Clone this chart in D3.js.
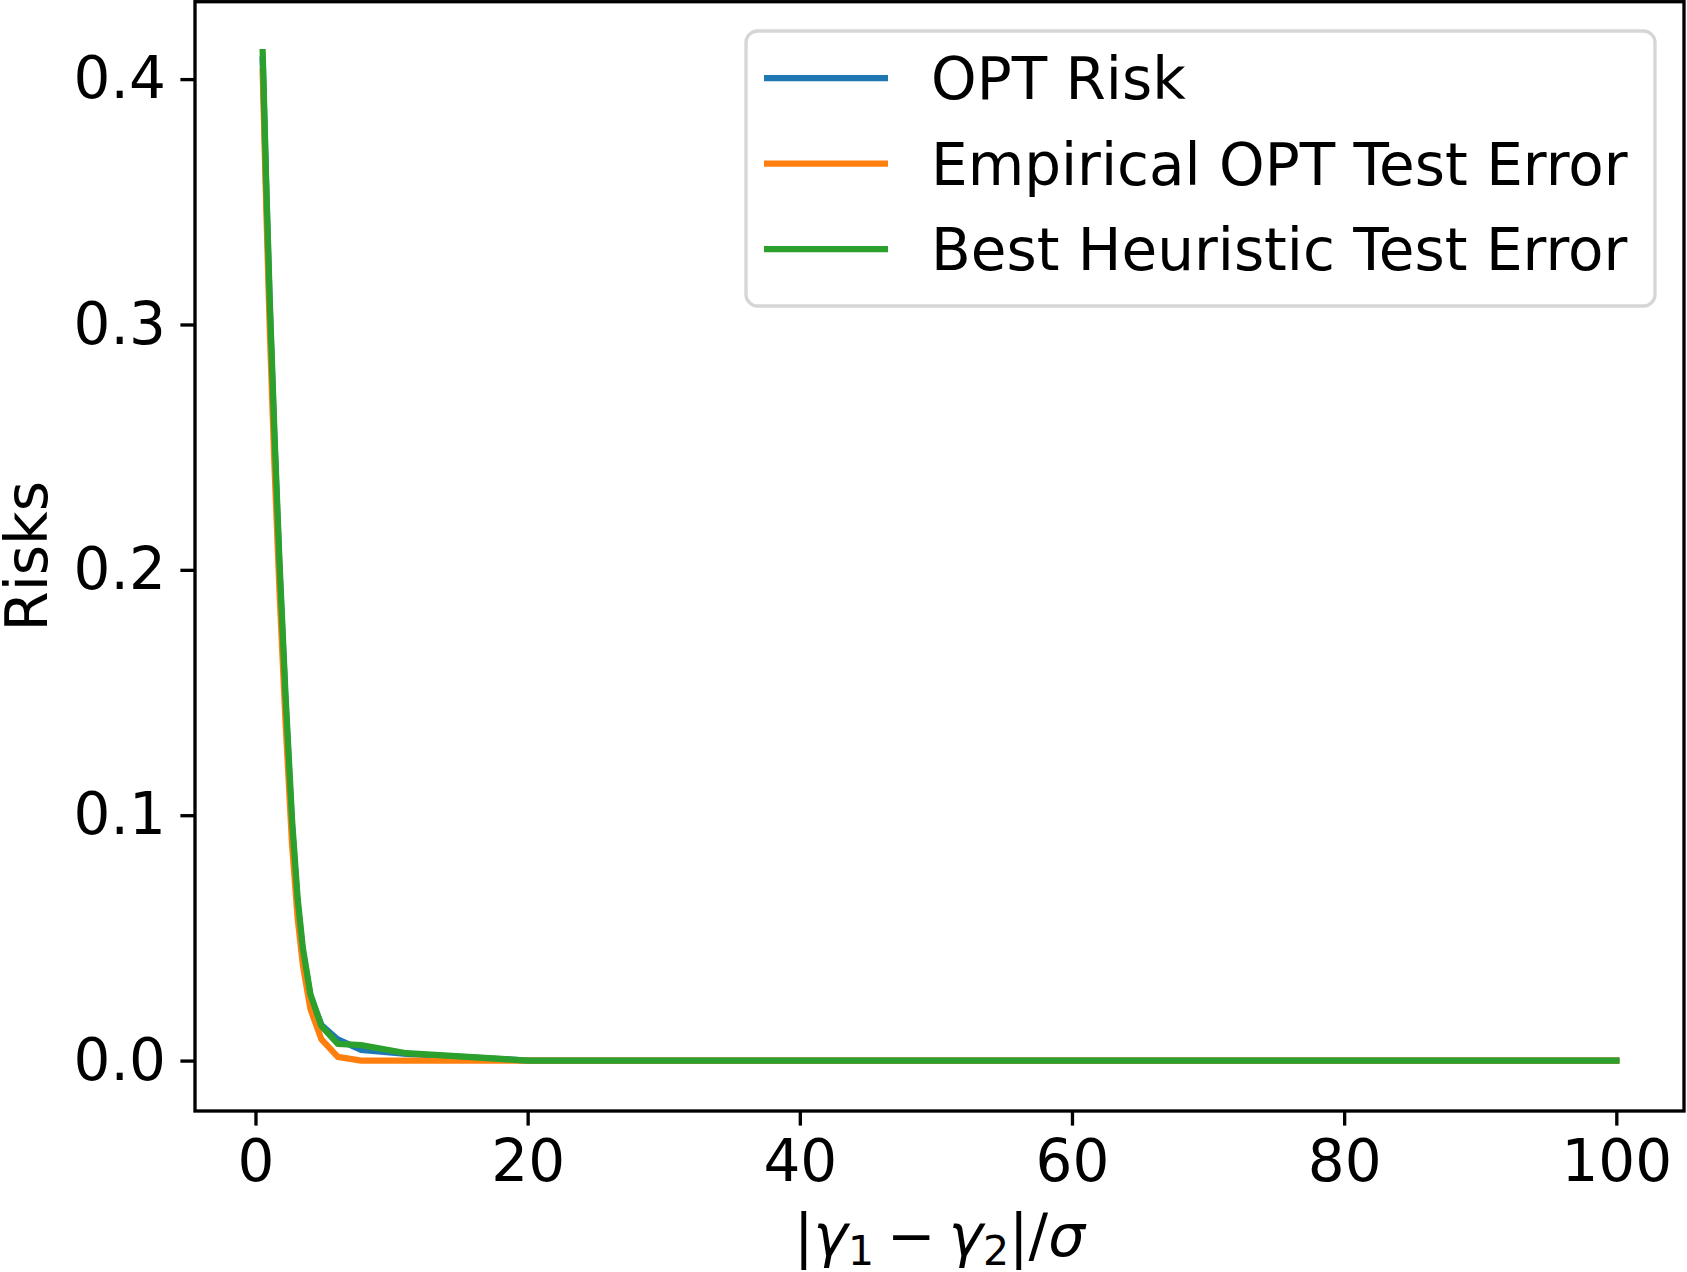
<!DOCTYPE html>
<html>
<head>
<meta charset="utf-8">
<script src="https://cdnjs.cloudflare.com/ajax/libs/d3/7.8.5/d3.min.js"></script>
<style>
	html, body { margin: 0; padding: 0; background: #ffffff; }
	svg text { font-family: "DejaVu Sans", sans-serif; fill: #000000; }
</style>
</head>
<body>
<div id="demo"></div>
<script>

// x values (|gamma1 - gamma2| / sigma)
var xValues = [0.53, 0.8, 1.05, 1.4, 1.76, 2.2, 2.69, 3.1, 3.48, 4.04, 4.85, 6.05, 7.76, 11.1, 20, 100];

// series values
var optRisk   = [0.408, 0.353, 0.307, 0.252, 0.201, 0.147, 0.095, 0.064, 0.044, 0.026, 0.0145, 0.0086, 0.0044, 0.0027, 0.0, 0.0];
var empTest   = [0.403, 0.346, 0.298, 0.242, 0.192, 0.139, 0.088, 0.058, 0.039, 0.021, 0.0086, 0.0015, 0.0, 0.0, 0.0, 0.0];
var bestHeur  = [0.411, 0.356, 0.310, 0.255, 0.204, 0.150, 0.098, 0.066, 0.046, 0.027, 0.0140, 0.0068, 0.0063, 0.0030, 0.0, 0.0];

var seriesNames = ['OPT Risk', 'Empirical OPT Test Error', 'Best Heuristic Test Error'];
var seriesColors = ['#1f77b4', '#ff7f0e', '#2ca02c'];

// tick labels
var xTicks = [0, 20, 40, 60, 80, 100];
var yTicks = [0.0, 0.1, 0.2, 0.3, 0.4];

(function() {

	var W = 1687, H = 1272;
	var pL = 195, pR = 1684, pT = 1.7, pB = 1111;
	var fs = 58;           // font size px
	var lw = 6.25;         // line width px
	var tickLen = 14.6, tickW = 3.33;

	var svg = d3.select("#demo").append("svg")
		.attr("width", W)
		.attr("height", H);

	// margins like matplotlib (5%)
	var allY = optRisk.concat(empTest, bestHeur);
	var xMin = d3.min(xValues), xMax = d3.max(xValues);
	var yMin = d3.min(allY), yMax = d3.max(allY);
	var xm = (xMax - xMin) * 0.05, ym = (yMax - yMin) * 0.05;

	var x = d3.scaleLinear().domain([xMin - xm, xMax + xm]).range([pL, pR]);
	var y = d3.scaleLinear().domain([yMin - ym, yMax + ym]).range([pB, pT]);

	// lines
	var lineGen = d3.line()
		.x(function(d) { return x(d[0]); })
		.y(function(d) { return y(d[1]); });

	var dataset = [optRisk, empTest, bestHeur].map(function(vals, i) {
		return { name: seriesNames[i], color: seriesColors[i],
			points: xValues.map(function(v, j) { return [v, vals[j]]; }) };
	});

	svg.append("clipPath").attr("id", "clip")
		.append("rect")
		.attr("x", pL).attr("y", pT)
		.attr("width", pR - pL).attr("height", pB - pT);

	svg.append("g")
		.attr("clip-path", "url(#clip)")
		.selectAll(".series")
		.data(dataset)
		.enter()
		.append("path")
		.attr("class", "series")
		.attr("d", function(d) { return lineGen(d.points); })
		.attr("fill", "none")
		.attr("stroke", function(d) { return d.color; })
		.attr("stroke-width", lw)
		.attr("stroke-linecap", "square")
		.attr("stroke-linejoin", "round")
		;

	// axes
	var xAxis = svg.append("g")
		.attr("transform", "translate(0," + pB + ")")
		.call(d3.axisBottom(x).tickValues(xTicks).tickFormat(d3.format("d"))
			.tickSize(tickLen).tickPadding(tickLen));

	var yAxis = svg.append("g")
		.attr("transform", "translate(" + pL + ",0)")
		.call(d3.axisLeft(y).tickValues(yTicks).tickFormat(d3.format(".1f"))
			.tickSize(tickLen).tickPadding(tickLen));

	[xAxis, yAxis].forEach(function(a) {
		a.select(".domain").remove();
		a.selectAll(".tick line").attr("stroke", "#000").attr("stroke-width", tickW);
		a.selectAll(".tick text")
			.style("font-family", "'DejaVu Sans', sans-serif")
			.style("font-size", fs + "px")
			.attr("fill", "#000");
	});

	// spines
	svg.append("rect")
		.attr("x", pL).attr("y", pT)
		.attr("width", pR - pL).attr("height", pB - pT)
		.attr("fill", "none")
		.attr("stroke", "#000")
		.attr("stroke-width", tickW)
		;

	// y label
	svg.append("text")
		.attr("transform", "translate(47," + ((pT + pB) / 2) + ") rotate(-90)")
		.attr("text-anchor", "middle")
		.style("font-size", fs + "px")
		.text("Risks");

	// x label  |γ1 − γ2|/σ
	var xl = svg.append("text")
		.attr("x", (pL + pR) / 2)
		.attr("y", 1256)
		.attr("text-anchor", "middle")
		.style("font-size", fs + "px");
	xl.append("tspan").text("|");
	xl.append("tspan").style("font-style", "italic").text("γ");
	xl.append("tspan").style("font-size", "41px").attr("dy", 9).text("1");
	xl.append("tspan").attr("dy", -9).attr("dx", 13).text("−");
	xl.append("tspan").attr("dx", 13).style("font-style", "italic").text("γ");
	xl.append("tspan").style("font-size", "41px").attr("dy", 9).text("2");
	xl.append("tspan").attr("dy", -9).text("|/");
	xl.append("tspan").style("font-style", "italic").text("σ");

	// legend
	var lg = svg.append("g");
	lg.append("rect")
		.attr("x", 746).attr("y", 31)
		.attr("width", 909).attr("height", 275)
		.attr("rx", 11.6)
		.attr("fill", "#ffffff")
		.attr("fill-opacity", 0.8)
		.attr("stroke", "#d6d6d6")
		.attr("stroke-width", tickW)
		;

	var rows = lg.selectAll(".lrow")
		.data(dataset)
		.enter()
		.append("g")
		.attr("class", "lrow")
		.attr("transform", function(d, i) { return "translate(0," + (78 + i * 85.5) + ")"; });

	rows.append("line")
		.attr("x1", 764).attr("x2", 888)
		.attr("y1", 0).attr("y2", 0)
		.attr("stroke", function(d) { return d.color; })
		.attr("stroke-width", lw)
		;

	rows.append("text")
		.attr("x", 931)
		.attr("y", 21)
		.style("font-size", fs + "px")
		.text(function(d) { return d.name; })
		;

})();

</script>
</body>
</html>
